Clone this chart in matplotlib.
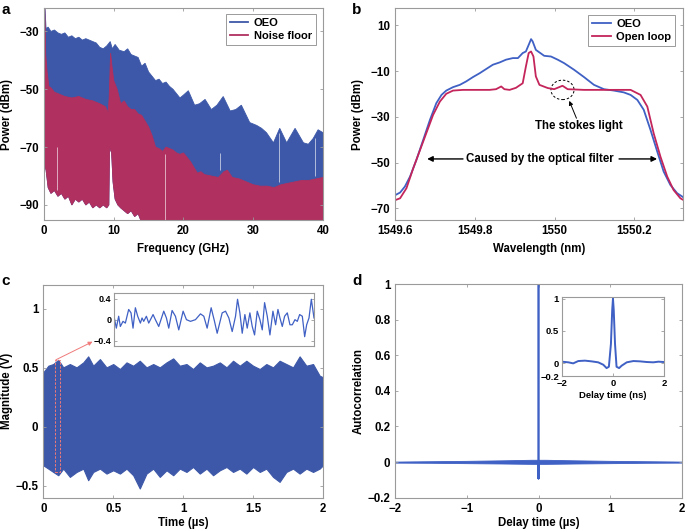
import numpy as np
import matplotlib
matplotlib.use("Agg")
import matplotlib.pyplot as plt
from matplotlib.patches import Ellipse, Rectangle
from matplotlib.ticker import FuncFormatter

plt.rcParams['font.family'] = ['Liberation Sans', 'DejaVu Sans']
plt.rcParams['font.weight'] = 'bold'
plt.rcParams['axes.labelweight'] = 'bold'

BLUE = "#3d58a8"
RED = "#b0305f"
BLUE_L = "#3f60c4"
RED_L = "#c4255a"
SPINE = "#9a9a9a"

# ---- panel a: electrical spectrum envelopes (GHz, dBm) ----
oeo_top_f = [0.0, 0.15, 0.3, 0.6, 1.0, 1.5, 2.0, 2.5, 3.0, 3.5, 4.0, 4.5, 5.0, 5.5, 6.0, 6.5,
             7.0, 7.5, 8.0, 8.5, 9.0, 9.5, 9.8, 10.2, 10.8, 11.5, 12.0, 12.5, 13.0, 13.5,
             14.0, 14.5, 15.0, 15.5, 16.0, 16.5, 17.0, 17.5, 18.0, 18.5, 19.0, 19.5, 20.0,
             20.7, 21.6, 22.3, 23.1, 24.0, 24.8, 25.7, 26.7, 27.5, 28.3, 29.5, 30.5, 31.2,
             31.9, 32.9, 33.8, 34.8, 36.0, 37.2, 37.9, 38.6, 39.3, 40.0]
oeo_top = [-22, -22, -29, -28.5, -30, -29.5, -30.5, -31, -30.5, -32, -31.5, -32.5, -32, -33,
           -32.5, -33, -33.5, -34, -35.5, -36, -35, -33.5, -36, -34.5, -36.5, -37, -36, -38,
           -38.5, -39, -42, -41, -44, -45.5, -47, -46.5, -48, -47.5, -49, -50, -51.5, -53,
           -52, -50.5, -55.5, -55, -53.5, -57, -55.5, -52.5, -57.5, -57, -55.5, -61.5, -62.5,
           -63.5, -65, -68.5, -63.5, -68.5, -63.5, -68.5, -69, -67, -64, -65]

noise_top_f = [0.0, 0.12, 0.25, 0.45, 0.7, 1.0, 1.5, 2.0, 3.0, 4.0, 5.0, 6.0, 7.0, 8.0, 8.8,
               9.2, 9.35, 9.55, 9.75, 10.0, 10.5, 11.0, 11.5, 12.0, 12.5, 13.0, 13.5, 14.0,
               14.5, 15.0, 15.5, 16.0, 16.5, 17.0, 17.5, 18.0, 18.5, 19.0, 19.5, 20.0, 20.5,
               21.0, 21.5, 22.0, 22.5, 23.0, 24.0, 25.0, 25.8, 26.3, 27.0, 28.0, 29.0, 30.0,
               31.0, 32.0, 33.0, 34.0, 35.0, 36.0, 37.0, 38.0, 39.0, 40.0]
noise_top = [-22, -22, -38, -44, -49, -49.5, -51, -51.5, -52.5, -53, -52.5, -53.5, -54, -55,
             -56, -58, -53, -37.5, -42, -47, -50, -55, -54, -56, -57, -57, -58.5, -59, -61,
             -63, -66, -70, -70.5, -71.5, -70, -70.5, -71, -72, -72.5, -72, -73.5, -75, -77,
             -79, -78.5, -79.5, -80, -80.5, -78.5, -78, -80.5, -81, -82, -83, -83.5, -83.5,
             -84, -83, -82.5, -82, -81.5, -81.5, -81, -80.5]

noise_bot_f = [0.0, 0.3, 0.6, 1.0, 1.5, 2.0, 2.5, 3.0, 3.5, 4.0, 4.5, 5.0, 5.5, 6.0, 6.5, 7.0,
               7.5, 8.0, 8.5, 9.0, 9.3, 9.4, 9.7, 9.9, 10.2, 10.6, 11.0, 11.5, 12.0, 12.5,
               13.0, 13.5, 14.0, 40.0]
noise_bot = [-75, -78, -84, -86, -85, -87, -86, -88, -87, -90, -88, -89, -88, -90, -89, -91,
             -90, -91, -90, -91, -90, -70, -72, -82, -88, -90, -91, -92, -93, -92, -94, -93,
             -96, -96]

# thin drop-outs seen in the spectra
gap_f = [1.8, 17.4, 25.2, 33.7, 38.9]
gap_top = [-70, -72.5, -72, -65, -67]
gap_bot = [-85, -96, -78, -82, -80]

# ---- panel b: optical spectrum (nm, dBm) ----
wl_oeo = [1549.600, 1549.612, 1549.624, 1549.637, 1549.653, 1549.670, 1549.687, 1549.703,
          1549.716, 1549.728, 1549.745, 1549.762, 1549.778, 1549.795, 1549.812, 1549.828,
          1549.845, 1549.862, 1549.878, 1549.895, 1549.908, 1549.920, 1549.928, 1549.937,
          1549.941, 1549.945, 1549.953, 1549.974, 1549.991, 1550.008, 1550.024, 1550.049,
          1550.074, 1550.099, 1550.124, 1550.149, 1550.174, 1550.191, 1550.208, 1550.224,
          1550.241, 1550.258, 1550.274, 1550.291, 1550.308, 1550.322]
p_oeo = [-64.2, -63.1, -60.5, -56.1, -48.8, -40.1, -31.3, -24.0, -20.4, -18.5, -17.0, -16.0,
         -14.5, -12.6, -10.9, -9.1, -7.2, -6.2, -5.0, -4.3, -4.3, -2.1, -1.4, 2.3, 4.0, 3.0,
         -0.7, -3.3, -3.6, -5.0, -6.5, -9.4, -12.6, -16.0, -17.9, -18.5, -19.3, -20.4, -22.6,
         -26.9, -35.7, -45.2, -53.9, -59.8, -63.4, -65.0]

wl_open = [1549.600, 1549.612, 1549.628, 1549.645, 1549.670, 1549.695, 1549.712, 1549.728,
           1549.745, 1549.770, 1549.837, 1549.853, 1549.866, 1549.874, 1549.887, 1549.903,
           1549.920, 1549.928, 1549.935, 1549.941, 1549.947, 1549.953, 1549.962, 1549.983,
           1549.999, 1550.020, 1550.033, 1550.074, 1550.191, 1550.199, 1550.216, 1550.233,
           1550.249, 1550.266, 1550.283, 1550.299, 1550.316, 1550.322]
p_open = [-66.4, -65.6, -61.2, -52.5, -40.8, -29.1, -23.3, -19.9, -18.5, -18.2, -18.2, -17.9,
          -16.7, -17.9, -18.2, -17.3, -15.3, -8.0, -2.1, -1.4, -3.6, -12.3, -16.0, -17.4,
          -17.9, -16.4, -17.9, -18.2, -18.2, -18.9, -20.4, -25.5, -37.2, -47.4, -56.1, -62.0,
          -65.6, -66.2]

# ---- panel c: chaotic time series envelope (us, V) ----
t_env = [0.000, 0.036, 0.071, 0.107, 0.143, 0.190, 0.238, 0.286, 0.321, 0.357, 0.405, 0.452,
         0.500, 0.548, 0.595, 0.643, 0.690, 0.738, 0.786, 0.833, 0.881, 0.929, 0.976, 1.024,
         1.071, 1.119, 1.167, 1.214, 1.262, 1.310, 1.357, 1.405, 1.452, 1.500, 1.548, 1.595,
         1.643, 1.690, 1.738, 1.786, 1.833, 1.881, 1.929, 1.976, 2.000]
v_upper = [0.461, 0.517, 0.531, 0.567, 0.503, 0.531, 0.503, 0.545, 0.596, 0.517, 0.573, 0.503,
           0.531, 0.489, 0.545, 0.517, 0.559, 0.503, 0.531, 0.503, 0.545, 0.579, 0.517, 0.531,
           0.489, 0.545, 0.503, 0.517, 0.545, 0.503, 0.559, 0.517, 0.559, 0.517, 0.489, 0.531,
           0.503, 0.559, 0.531, 0.503, 0.596, 0.517, 0.531, 0.433, 0.419]
v_lower = [-0.326, -0.354, -0.382, -0.410, -0.354, -0.424, -0.382, -0.354, -0.452, -0.382,
           -0.354, -0.396, -0.368, -0.396, -0.354, -0.410, -0.522, -0.396, -0.354, -0.424,
           -0.368, -0.410, -0.354, -0.382, -0.340, -0.396, -0.354, -0.410, -0.368, -0.340,
           -0.382, -0.354, -0.396, -0.340, -0.382, -0.354, -0.424, -0.466, -0.382, -0.354,
           -0.396, -0.354, -0.382, -0.354, -0.326]

# zoomed waveform (inset of c)
t_zoom = [0.08500, 0.08530, 0.08565, 0.08590, 0.08630, 0.08665, 0.08715, 0.08750, 0.08780,
          0.08815, 0.08850, 0.08890, 0.08915, 0.08940, 0.08980, 0.09015, 0.09080, 0.09115,
          0.09165, 0.09240, 0.09280, 0.09315, 0.09365, 0.09415, 0.09465, 0.09530, 0.09580,
          0.09640, 0.09715, 0.09790, 0.09840, 0.09890, 0.09950, 0.10000, 0.10040, 0.10115,
          0.10165, 0.10215, 0.10265, 0.10315, 0.10345, 0.10380, 0.10415, 0.10455, 0.10490,
          0.10530, 0.10565, 0.10600, 0.10640, 0.10680, 0.10715, 0.10750, 0.10790, 0.10830,
          0.10875, 0.10915, 0.10950, 0.10980, 0.11015, 0.11050, 0.11090, 0.11130, 0.11165,
          0.11205, 0.11240, 0.11275, 0.11315, 0.11350, 0.11380, 0.11415, 0.11450, 0.11490]
v_zoom = [0.032, -0.161, 0.065, -0.129, -0.032, -0.065, 0.194, 0.129, -0.161, 0.226, 0.065,
          -0.065, 0.032, -0.032, 0.065, -0.065, 0.097, 0.000, -0.129, 0.161, 0.032, -0.161,
          0.174, 0.065, -0.194, 0.161, 0.000, -0.032, 0.000, 0.110, 0.065, -0.161, 0.226,
          -0.032, -0.258, 0.129, 0.161, 0.032, -0.226, 0.065, 0.387, 0.129, -0.258, 0.097,
          -0.161, 0.129, -0.129, -0.290, 0.161, 0.000, -0.194, 0.323, 0.065, -0.290, 0.161,
          -0.097, 0.194, 0.032, -0.129, 0.065, 0.129, -0.097, -0.097, 0.000, -0.032, 0.097,
          0.065, -0.323, -0.097, 0.032, 0.387, 0.032]

# ---- panel d: autocorrelation ----
lag_env = [-2.0, -1.5, -1.0, -0.5, -0.1, 0.0, 0.1, 0.5, 1.0, 1.5, 2.0]
ac_upper = [0.003, 0.005, 0.007, 0.010, 0.013, 0.013, 0.013, 0.010, 0.007, 0.005, 0.003]
ac_lower = [-0.003, -0.004, -0.006, -0.008, -0.010, -0.010, -0.010, -0.008, -0.006, -0.004, -0.003]
lag_peak = [-0.004, -0.002, 0.0, 0.002, 0.004]
ac_peak = [0.0, -0.093, 1.0, -0.093, 0.0]

lag_ns = [-2.00, -1.75, -1.56, -1.36, -1.10, -0.84, -0.58, -0.38, -0.25, -0.16, -0.08, -0.03,
          0.00, 0.03, 0.08, 0.14, 0.24, 0.34, 0.54, 0.80, 1.06, 1.32, 1.58, 1.78, 2.00]
ac_ns = [0.026, 0.016, 0.000, 0.036, 0.042, 0.031, 0.016, -0.021, -0.073, -0.052, 0.302,
         0.823, 1.000, 0.823, 0.302, -0.052, -0.073, -0.036, 0.016, 0.036, 0.031, 0.021,
         0.016, 0.026, 0.021]


def fmt(v, pos=None):
    return f"{v:g}".replace("-", "\u2212")


def style(ax, fs=8.3, pad=3.5):
    for s in ax.spines.values():
        s.set_color(SPINE)
        s.set_linewidth(0.8)
    ax.tick_params(direction="in", top=True, right=True, length=2.5, width=0.6,
                   color=SPINE, labelsize=fs, pad=pad)
    ax.xaxis.set_major_formatter(FuncFormatter(fmt))
    ax.yaxis.set_major_formatter(FuncFormatter(fmt))


def add_legend(ax, anchor):
    leg = ax.legend(loc="upper right", bbox_to_anchor=anchor, borderaxespad=0,
                    fancybox=False, edgecolor=SPINE, framealpha=1, handlelength=1.7,
                    handletextpad=0.5, prop={"size": 8, "weight": "bold"},
                    borderpad=0.35, labelspacing=0.3)
    leg.get_frame().set_linewidth(0.7)


fig = plt.figure(figsize=(6.85, 5.31), dpi=100)

# ---------------- a ----------------
ax = fig.add_axes([0.0642, 0.5857, 0.4073, 0.3992])
ax.fill(np.r_[oeo_top_f, noise_bot_f[::-1]], np.r_[oeo_top, noise_bot[::-1]],
        color=BLUE, lw=0.6, ec=BLUE)
ax.fill(np.r_[noise_top_f, noise_bot_f[::-1]], np.r_[noise_top, noise_bot[::-1]],
        color=RED, lw=0.6, ec=RED)
ax.vlines(gap_f, gap_bot, gap_top, color="white", lw=0.7, alpha=0.6)
ax.plot([], [], color=BLUE, lw=1.3, label="OEO")
ax.plot([], [], color=RED, lw=1.3, label="Noise floor")
ax.set_xlim(0, 40)
ax.set_ylim(-95.2, -21.9)
ax.set_xticks([0, 10, 20, 30, 40])
ax.set_yticks([-90, -70, -50, -30])
style(ax)
ax.set_xlabel("Frequency (GHz)", fontsize=8.3)
ax.set_ylabel("Power (dBm)", fontsize=8.3)
ax.xaxis.set_label_coords(0.5, -0.107)
ax.yaxis.set_label_coords(-0.112, 0.5)
add_legend(ax, (0.975, 0.972))

# ---------------- b ----------------
ax = fig.add_axes([0.5771, 0.5857, 0.4196, 0.3992])
ax.plot(wl_oeo, p_oeo, color=BLUE_L, lw=1.3, label="OEO")
ax.plot(wl_open, p_open, color=RED_L, lw=1.3, label="Open loop")
ax.set_xlim(1549.6, 1550.322)
ax.set_ylim(-75.1, 17.6)
ax.set_xticks([1549.6, 1549.8, 1550.0, 1550.2])
ax.set_yticks([-70, -50, -30, -10, 10])
style(ax)
ax.set_xlabel("Wavelength (nm)", fontsize=8.3)
ax.set_ylabel("Power (dBm)", fontsize=8.3)
ax.xaxis.set_label_coords(0.5, -0.107)
ax.yaxis.set_label_coords(-0.108, 0.5)
add_legend(ax, (0.973, 0.967))
ax.add_patch(Ellipse((1550.02, -18.2), 0.058, 8.5, fill=False, ls=(0, (2.5, 2)),
                     lw=0.7, ec="black"))
ax.annotate("", xy=(1550.037, -23.0), xytext=(1550.055, -30.6),
            arrowprops=dict(arrowstyle="-|>", color="black", lw=0.7,
                            mutation_scale=6, shrinkA=0, shrinkB=0))
ax.text(1550.062, -33.9, "The stokes light", ha="center", va="center",
        fontsize=8.3, fontweight="bold")
ax.text(1549.962, -48.4, "Caused by the optical filter", ha="center", va="center",
        fontsize=8.3, fontweight="bold")
ax.annotate("", xy=(1549.68, -48.4), xytext=(1549.77, -48.4),
            arrowprops=dict(arrowstyle="-|>", color="black", lw=1.0,
                            mutation_scale=8, shrinkA=0, shrinkB=0))
ax.annotate("", xy=(1550.2575, -48.4), xytext=(1550.162, -48.4),
            arrowprops=dict(arrowstyle="-|>", color="black", lw=1.0,
                            mutation_scale=8, shrinkA=0, shrinkB=0))

# ---------------- c ----------------
ax = fig.add_axes([0.0632, 0.0627, 0.4083, 0.4006])
ax.fill_between(t_env, v_lower, v_upper, color=BLUE, lw=0.8, ec=BLUE)
ax.set_xlim(0, 2)
ax.set_ylim(-0.6, 1.2)
ax.set_xticks([0, 0.5, 1, 1.5, 2])
ax.set_yticks([-0.5, 0, 0.5, 1])
style(ax)
ax.set_xlabel("Time (\u00b5s)", fontsize=8.3)
ax.set_ylabel("Magnitude (V)", fontsize=8.3)
ax.xaxis.set_label_coords(0.5, -0.09)
ax.yaxis.set_label_coords(-0.11, 0.5)
ax.add_patch(Rectangle((0.083, -0.382), 0.036, 0.949, fill=False, ec="#f07a7a",
                       lw=0.7, ls=(0, (2.5, 1.5))))
ax.annotate("", xy=(0.352, 0.72), xytext=(0.09, 0.567),
            arrowprops=dict(arrowstyle="-|>", color="#f07a7a", lw=0.7,
                            mutation_scale=6, shrinkA=0, shrinkB=0))

axi = fig.add_axes([0.1669, 0.3484, 0.2915, 0.0992])
axi.plot(t_zoom, v_zoom, color=BLUE_L, lw=0.9)
axi.set_xlim(t_zoom[0], t_zoom[-1])
axi.set_ylim(-0.5, 0.5)
axi.set_yticks([-0.4, 0, 0.4])
style(axi, fs=6.5, pad=2)
axi.set_xticks([])

# ---------------- d ----------------
ax = fig.add_axes([0.5771, 0.0627, 0.4181, 0.4024])
ax.fill_between(lag_env, ac_lower, ac_upper, color=BLUE_L, lw=0.6, ec=BLUE_L)
ax.plot(lag_peak, ac_peak, color=BLUE_L, lw=1.2)
ax.set_xlim(-2, 2)
ax.set_ylim(-0.2, 1)
ax.set_xticks([-2, -1, 0, 1, 2])
ax.set_yticks([-0.2, 0, 0.2, 0.4, 0.6, 0.8, 1])
style(ax)
ax.set_xlabel("Delay time (\u00b5s)", fontsize=8.3)
ax.set_ylabel("Autocorrelation", fontsize=8.3)
ax.xaxis.set_label_coords(0.5, -0.09)
ax.yaxis.set_label_coords(-0.108, 0.5)

axi = fig.add_axes([0.8204, 0.2913, 0.1489, 0.1488])
axi.plot(lag_ns, ac_ns, color=BLUE_L, lw=1.4)
axi.set_xlim(-2, 2)
axi.set_ylim(-0.2, 1.02)
axi.set_xticks([-2, 0, 2])
axi.set_yticks([-0.2, 0, 0.5, 1])
style(axi, fs=6.8, pad=2)
axi.set_xlabel("Delay time (ns)", fontsize=6.8, labelpad=2)

# panel letters
for x, y, s in [(0.002, 0.995, "a"), (0.514, 0.995, "b"), (0.002, 0.484, "c"), (0.514, 0.484, "d")]:
    fig.text(x, y, s, fontsize=11, fontweight="bold", va="top", ha="left")

fig.savefig("out.png", dpi=100)
